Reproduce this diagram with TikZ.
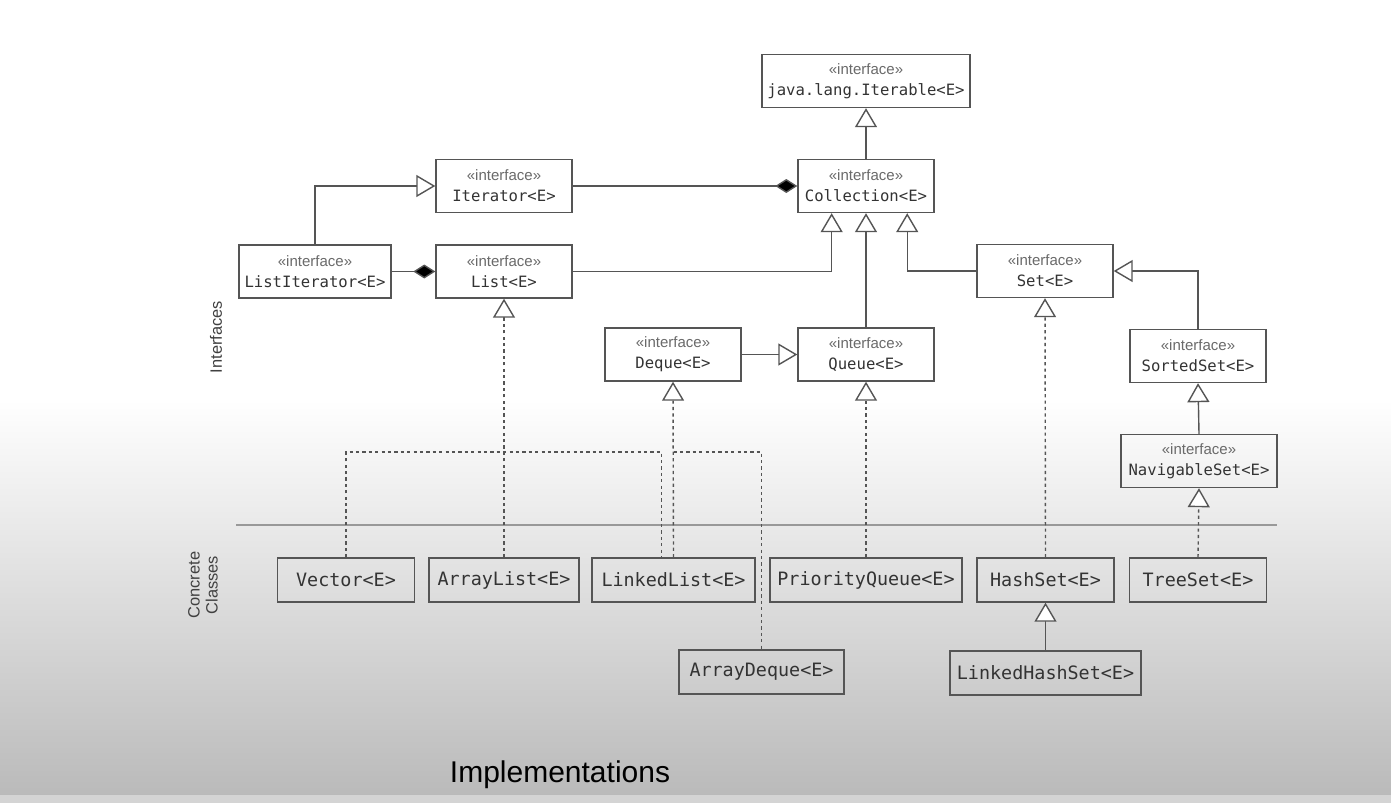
\documentclass[tikz,border=0pt]{standalone}
\usepackage{fontspec}
\setmainfont{Liberation Sans}
\setmonofont{DejaVu Sans Mono}
\usetikzlibrary{arrows.meta,calc,positioning}
\definecolor{umlgray}{HTML}{555555}
\definecolor{textgray}{HTML}{333333}
\definecolor{stereogray}{HTML}{6A6A6A}
\newcommand{\iface}[1]{{\rmfamily\fontsize{7.5}{9}\selectfont\color{stereogray}«interface»}\\[0.5pt]#1}
\tikzset{
  classbox/.style={draw=umlgray, line width=0.7pt, minimum width=68pt, minimum height=22pt,
    inner sep=2pt, align=center, font=\fontsize{9.2}{10}\selectfont\ttfamily, text=textgray},
  ifacebox/.style={classbox, minimum height=26.5pt, font=\fontsize{7.8}{10}\selectfont\ttfamily},
  gen/.style={draw=umlgray, line width=0.7pt, -{Triangle[length=9.5pt, width=11pt, fill=white]}},
  realize/.style={gen, dash pattern=on 1.6pt off 1.6pt},
  dashline/.style={draw=umlgray, line width=0.7pt, dash pattern=on 1.6pt off 1.6pt},
  owns/.style={draw=umlgray, line width=0.7pt, -{Diamond[length=11pt, width=7pt, fill=black]}},
  sidelabel/.style={font=\fontsize{8.2}{9}\selectfont, text=black!75, rotate=90, align=center},
}
\begin{document}
\begin{tikzpicture}[x=0.5pt, y=-0.5pt]
\useasboundingbox (0,0) rectangle (1391,803);
% Background
\fill[white] (0,0) rectangle (1391,400);
\shade[top color=white, bottom color=black!27] (0,400) rectangle (1391,795);
\fill[black!17] (0,795) rectangle (1391,803);
% Interfaces
\node[ifacebox, minimum width=104pt] (iterable) at (866,81) {\iface{java.lang.Iterable<E>}};
\node[ifacebox] (coll) at (866,186) {\iface{Collection<E>}};
\node[ifacebox] (iter) at (504,186) {\iface{Iterator<E>}};
\node[ifacebox, minimum width=76pt] (listit) at (315,271.5) {\iface{ListIterator<E>}};
\node[ifacebox] (list) at (504,271.5) {\iface{List<E>}};
\node[ifacebox] (set) at (1045,271) {\iface{Set<E>}};
\node[ifacebox] (deque) at (673,354.5) {\iface{Deque<E>}};
\node[ifacebox] (queue) at (866,354.5) {\iface{Queue<E>}};
\node[ifacebox] (sorted) at (1198,356) {\iface{SortedSet<E>}};
\node[ifacebox, minimum width=78pt] (nav) at (1199,461) {\iface{NavigableSet<E>}};
% Separator
\draw[black!40, line width=0.8pt] (236,525) -- (1277,525);
% Concrete classes
\node[classbox, minimum width=68.5pt] (vector) at (346,580) {Vector<E>};
\node[classbox, minimum width=75pt] (alist) at (504,580) {ArrayList<E>};
\node[classbox, minimum width=81.5pt] (llist) at (673.5,580) {LinkedList<E>};
\node[classbox, minimum width=96pt] (pq) at (866,580) {PriorityQueue<E>};
\node[classbox, minimum width=68.5pt] (hash) at (1045.5,580) {HashSet<E>};
\node[classbox, minimum width=68.5pt] (tree) at (1198,580) {TreeSet<E>};
\node[classbox, minimum width=82.5pt] (adeque) at (761.5,672) {ArrayDeque<E>};
\node[classbox, minimum width=95.5pt] (lhs) at (1045.5,673) {LinkedHashSet<E>};
% Side labels
\node[sidelabel] (lblif) at (216,337) {Interfaces};
\node[sidelabel] (lblcc) at (203,585) {Concrete\\Classes};
\node[font=\fontsize{15}{18}\selectfont] (lblimpl) at (560,775) {Implementations};
% Interface hierarchy
\draw[gen] (coll.north) -- (iterable.south);
\draw[owns] (iter.east) -- (coll.west);
\draw[gen] (listit.north) |- (iter.west);
\draw[owns] (listit.east) -- (list.west);
\draw[gen] (list.east) -| ($(coll.south)!0.5!(coll.south west)$);
\draw[gen] (queue.north) -- (coll.south);
\draw[gen] (set.west) -| ($(coll.south)!0.6!(coll.south east)$);
\draw[gen] (deque.east) -- (queue.west);
\draw[gen] (sorted.north) |- (set.east);
\draw[gen] (nav.north) -- (sorted.south);
% Implementations
\coordinate (jlist) at (504,452);
\coordinate (jdeque) at (llist.north |- jlist);
\coordinate (llistl) at ($(llist.north)+(-12,0)$);
\draw[realize] (alist.north) -- (list.south);
\draw[dashline] (vector.north) |- (jlist) -| (llistl);
\draw[realize] (llist.north) -- (deque.south);
\draw[dashline] (jdeque) -| (adeque.north);
\draw[realize] (pq.north) -- (queue.south);
\draw[realize] (hash.north) -- (set.south);
\draw[realize] (tree.north) -- (nav.south);
\draw[gen] (lhs.north) -- (hash.south);
\end{tikzpicture}
\end{document}
